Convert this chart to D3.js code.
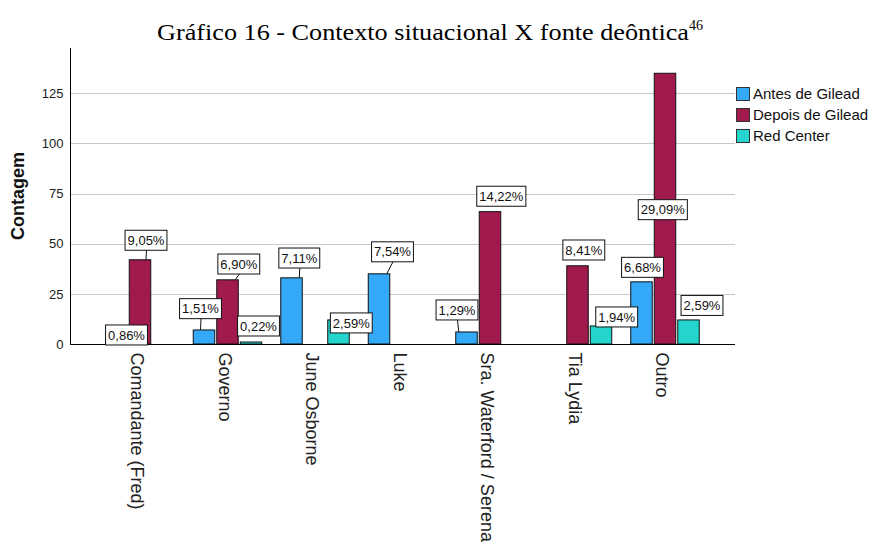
<!DOCTYPE html>
<html><head><meta charset="utf-8">
<script src="https://cdn.jsdelivr.net/npm/d3@7/dist/d3.min.js"></script>
<style>body{margin:0;background:#fff}svg{display:block}</style>
</head><body>
<svg id="c" width="871" height="543"></svg>
<script>
const categories = ["Comandante (Fred)", "Governo", "June Osborne", "Luke", "Sra. Waterford / Serena", "Tia Lydia", "Outro"];
const seriesNames = ["Antes de Gilead", "Depois de Gilead", "Red Center"];
const antes = [4, 7, 33, 35, 6, 0, 31];
const depois = [42, 32, 0, 0, 66, 39, 135];
const redCenter = [0, 1, 12, 0, 0, 9, 12];
const yTicks = [0, 25, 50, 75, 100, 125];
const seriesColors = ["#33A9F7", "#A11A4D", "#24D5CD"];

// label layout: [dx, dy of box centre from bar-top centre, leader?]
const labelLayout = [
  [[10, -1, 0], [-3.5, -21.3, 1], [7.8, -19.8, 1], [13.5, -22, 1], [-9.5, -22, 1], null, [1, -14.5, 0]],
  [[6, -19.5, 1], [11.3, -15.8, 1], null, null, [11.3, -15.4, 0], [6.3, -15.8, 0], [-2.2, 136.4, 0]],
  [null, [7.5, -16, 0], [12.8, 3, 0], null, null, [15.7, -9, 0], [13.5, -14.5, 0]]
];

const seriesValues = [antes, depois, redCenter];
const total = d3.sum(seriesValues.flat());
const svg = d3.select("#c");
const L = 70, R = 735, T = 48, B = 344;
const sans = "'Liberation Sans', Arial, sans-serif";

const x = d3.scaleBand().domain(categories).range([L, R]).paddingInner(0).paddingOuter(0.3);
const xs = d3.scaleBand().domain(seriesNames).range([-34.25, 34.25]).paddingInner(2 / 23.5).paddingOuter(0);
const y = d3.scaleLinear().domain([0, 147.6]).range([B, T]);

// gridlines
svg.append("g").selectAll("line").data(yTicks.filter(d => d > 0)).join("line")
  .attr("x1", L).attr("x2", R).attr("y1", d => Math.round(y(d)) + 0.5).attr("y2", d => Math.round(y(d)) + 0.5)
  .attr("stroke", "#c8c8c8").attr("stroke-width", 1);

// y axis
const yAxis = svg.append("g").attr("transform", `translate(${L + 0.5},0)`)
  .call(d3.axisLeft(y).tickValues(yTicks).tickSize(0).tickPadding(7).tickFormat(d3.format("d")));
yAxis.select(".domain").attr("d", `M0,${T}V${B + 0.5}`).attr("stroke", "#000");
yAxis.selectAll("text").attr("font-family", sans).attr("font-size", 13).attr("fill", "#222");

svg.append("text").attr("transform", `translate(24,196) rotate(-90)`)
  .attr("text-anchor", "middle").attr("font-family", sans).attr("font-weight", "bold")
  .attr("font-size", 18).attr("fill", "#111").text("Contagem");

// bars
const barData = [];
seriesValues.forEach((vals, s) => vals.forEach((v, i) => {
  if (v > 0) barData.push({ s, i, v });
}));
svg.append("g").selectAll("rect").data(barData).join("rect")
  .attr("x", d => x(categories[d.i]) + x.bandwidth() / 2 + xs(seriesNames[d.s]))
  .attr("y", d => y(d.v))
  .attr("width", xs.bandwidth())
  .attr("height", d => y(0) - y(d.v))
  .attr("fill", d => seriesColors[d.s])
  .attr("stroke", "#111").attr("stroke-width", 1);

// x axis
const xAxis = svg.append("g").attr("transform", `translate(0,${B + 0.5})`)
  .call(d3.axisBottom(x).tickSize(0).tickPadding(0));
xAxis.select(".domain").attr("d", `M${L},0H${R}`).attr("stroke", "#000");
xAxis.selectAll(".tick text")
  .attr("transform", "translate(-9,8) rotate(90)")
  .attr("text-anchor", "start").attr("dy", "0").attr("y", 0)
  .attr("font-family", sans).attr("font-size", 18).attr("fill", "#222");

// data labels
const fmtPct = v => (v / total * 100).toFixed(2).replace(".", ",") + "%";
const lab = svg.append("g");
barData.forEach(d => {
  const lay = labelLayout[d.s][d.i];
  if (!lay) return;
  const bx0 = x(categories[d.i]) + x.bandwidth() / 2 + xs(seriesNames[d.s]);
  const bc = bx0 + xs.bandwidth() / 2;
  const top = y(d.v);
  const cx = bc + lay[0], cy = top + lay[1];
  const txt = fmtPct(d.v);
  const g = lab.append("g");
  const t = g.append("text").attr("x", cx).attr("y", cy + 4.6).attr("text-anchor", "middle")
    .attr("font-family", sans).attr("font-size", 13).attr("fill", "#111").text(txt);
  const w = t.node().getComputedTextLength() + 5, h = 20;
  g.insert("rect", "text").attr("x", cx - w / 2).attr("y", cy - h / 2).attr("width", w).attr("height", h)
    .attr("fill", "#fff").attr("stroke", "#111").attr("stroke-width", 1);
  if (lay[2]) {
    const lxBar = Math.max(bx0 + 3, Math.min(bx0 + xs.bandwidth() - 3, cx));
    g.insert("line", "rect").attr("x1", cx + 0.5).attr("y1", cy + h / 2).attr("x2", lxBar).attr("y2", top)
      .attr("stroke", "#111").attr("stroke-width", 1);
  }
});

// legend
const lg = svg.append("g").attr("transform", "translate(736,87)");
seriesNames.forEach((n, k) => {
  const r = lg.append("g").attr("transform", `translate(0,${k * 21})`);
  r.append("rect").attr("x", 0.5).attr("y", 0.5).attr("width", 13).attr("height", 13)
    .attr("fill", seriesColors[k]).attr("stroke", "#333");
  r.append("text").attr("x", 17).attr("y", 12).attr("font-family", sans).attr("font-size", 15)
    .attr("fill", "#111").text(n);
});

// title
const title = svg.append("text").attr("x", 157).attr("y", 40).attr("text-anchor", "start")
  .attr("font-family", "'Liberation Serif', 'Times New Roman', serif").attr("font-size", 24).attr("fill", "#000");
title.append("tspan").attr("textLength", 532).attr("lengthAdjust", "spacingAndGlyphs")
  .text("Gráfico 16 - Contexto situacional X fonte deôntica");
title.append("tspan").attr("font-size", 14).attr("dy", -10).text("46");
</script>
</body></html>
